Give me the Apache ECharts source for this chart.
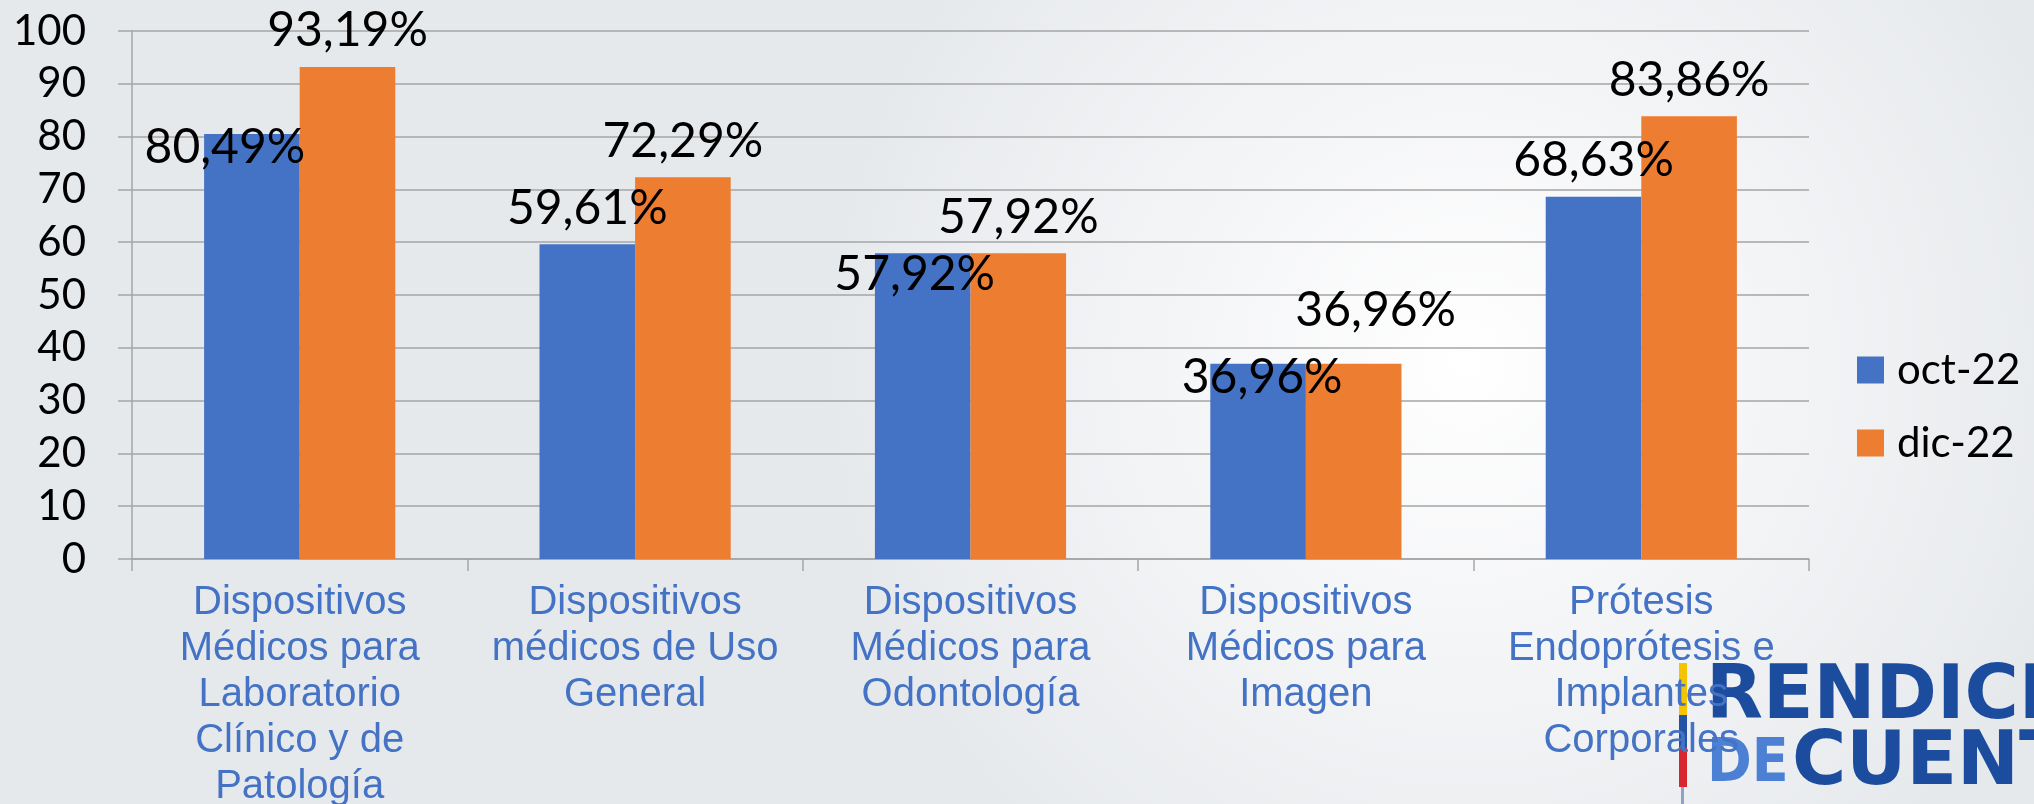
<!DOCTYPE html>
<html>
<head>
<meta charset="utf-8">
<title>Dispositivos médicos</title>
<script src="https://cdn.jsdelivr.net/npm/echarts@6/dist/echarts.min.js"></script>
<style>
  html, body { margin: 0; padding: 0; }
  #chart { width: 2034px; height: 804px; }
</style>
</head>
<body>
<div id="chart"></div>
<script>
// categorías (saltos de línea como en el original)
var categories = [
  'Dispositivos\nMédicos para\nLaboratorio\nClínico y de\nPatología',
  'Dispositivos\nmédicos de Uso\nGeneral',
  'Dispositivos\nMédicos para\nOdontología',
  'Dispositivos\nMédicos para\nImagen',
  'Prótesis\nEndoprótesis e\nImplantes\nCorporales'
];
var seriesNames = ['oct-22', 'dic-22'];
var oct22 = [80.49, 59.61, 57.92, 36.96, 68.63];
var dic22 = [93.19, 72.29, 57.92, 36.96, 83.86];
var yTicks = [0, 10, 20, 30, 40, 50, 60, 70, 80, 90, 100];

// ajustes manuales de etiquetas (como en la diapositiva)
var octNudge = [[-27, 50], [0, 0], [-8, 57], [4, 50], [0, 0]];
var dicNudge = [[0, 0], [0, 0], [0, 0], [22, -17], [0, 0]];

function fmt(v) {
  return v.toFixed(2).replace('.', ',') + '%';
}

function buildData(values, nudges) {
  return values.map(function (v, i) {
    return { value: v, label: { offset: nudges[i] } };
  });
}

var chart = echarts.init(document.getElementById('chart'));

var labelStyle = {
  show: true,
  position: 'top',
  distance: 12,
  color: '#000',
  fontFamily: 'Lato',
  fontSize: 48,
  formatter: function (p) { return fmt(p.value); }
};

var logoFont = 'bold 74px "DejaVu Sans"';

var option = {
  animation: false,
  backgroundColor: {
    type: 'radial', x: 0.72, y: 0.45, r: 0.8,
    colorStops: [
      { offset: 0, color: '#ffffff' },
      { offset: 0.5, color: '#f3f4f6' },
      { offset: 1, color: '#e6e9ec' }
    ]
  },
  color: ['#4472C4', '#ED7D31'],
  grid: { left: 132, right: 225, top: 31, bottom: 245, outerBoundsMode: 'none' },
  legend: {
    orient: 'vertical',
    left: 1857,
    top: 345,
    padding: 0,
    itemWidth: 27,
    itemHeight: 27,
    itemGap: 23,
    icon: 'rect',
    data: seriesNames,
    textStyle: { fontFamily: 'Lato', fontSize: 42, color: '#000', lineHeight: 50, padding: [0, 0, 0, 8] }
  },
  xAxis: {
    type: 'category',
    data: categories,
    axisLine: { lineStyle: { color: '#a5a5a5', width: 1.5 } },
    axisTick: { show: true, length: 12, lineStyle: { color: '#a5a5a5', width: 1.5 } },
    axisLabel: {
      interval: 0,
      margin: 21,
      color: '#4472C4',
      fontFamily: 'Liberation Sans',
      fontSize: 40,
      lineHeight: 46,
      align: 'center'
    }
  },
  yAxis: {
    type: 'value',
    min: yTicks[0],
    max: yTicks[yTicks.length - 1],
    interval: 10,
    axisLine: { show: true, lineStyle: { color: '#a5a5a5', width: 1.5 } },
    axisTick: { show: true, length: 14, lineStyle: { color: '#a5a5a5', width: 1.5 } },
    splitLine: { lineStyle: { color: '#a5a5a5', width: 1.5 } },
    axisLabel: { margin: 46, color: '#000', fontFamily: 'Lato', fontSize: 42 }
  },
  graphic: [
    // logo "RENDICIÓN DE CUENTAS" (recortado en el borde)
    { type: 'rect', z: -1, shape: { x: 1679, y: 663, width: 8, height: 52 }, style: { fill: '#f5c400' } },
    { type: 'rect', z: -1, shape: { x: 1679, y: 715, width: 8, height: 32 }, style: { fill: '#2452a4' } },
    { type: 'rect', z: -1, shape: { x: 1679, y: 747, width: 8, height: 40 }, style: { fill: '#d7282f' } },
    { type: 'rect', z: -1, shape: { x: 1681, y: 787, width: 3, height: 17 }, style: { fill: '#8fa3c4' } },
    { type: 'text', z: -1, left: 1706, top: 662, style: { text: 'RENDICI', fill: '#1c4c9e', font: logoFont } },
    { type: 'text', z: -1, left: 1707, top: 735, style: { text: 'DE', fill: '#4b80d4', font: 'bold 60px "DejaVu Sans Condensed"' } },
    { type: 'text', z: -1, left: 1792, top: 728, style: { text: 'CUENTAS', fill: '#1c4c9e', font: logoFont } }
  ],
  series: [
    {
      name: seriesNames[0],
      type: 'bar',
      barGap: 0,
      barCategoryGap: '43%',
      data: buildData(oct22, octNudge),
      label: labelStyle
    },
    {
      name: seriesNames[1],
      type: 'bar',
      barGap: 0,
      barCategoryGap: '43%',
      data: buildData(dic22, dicNudge),
      label: labelStyle
    }
  ]
};

chart.setOption(option);
</script>
</body>
</html>
